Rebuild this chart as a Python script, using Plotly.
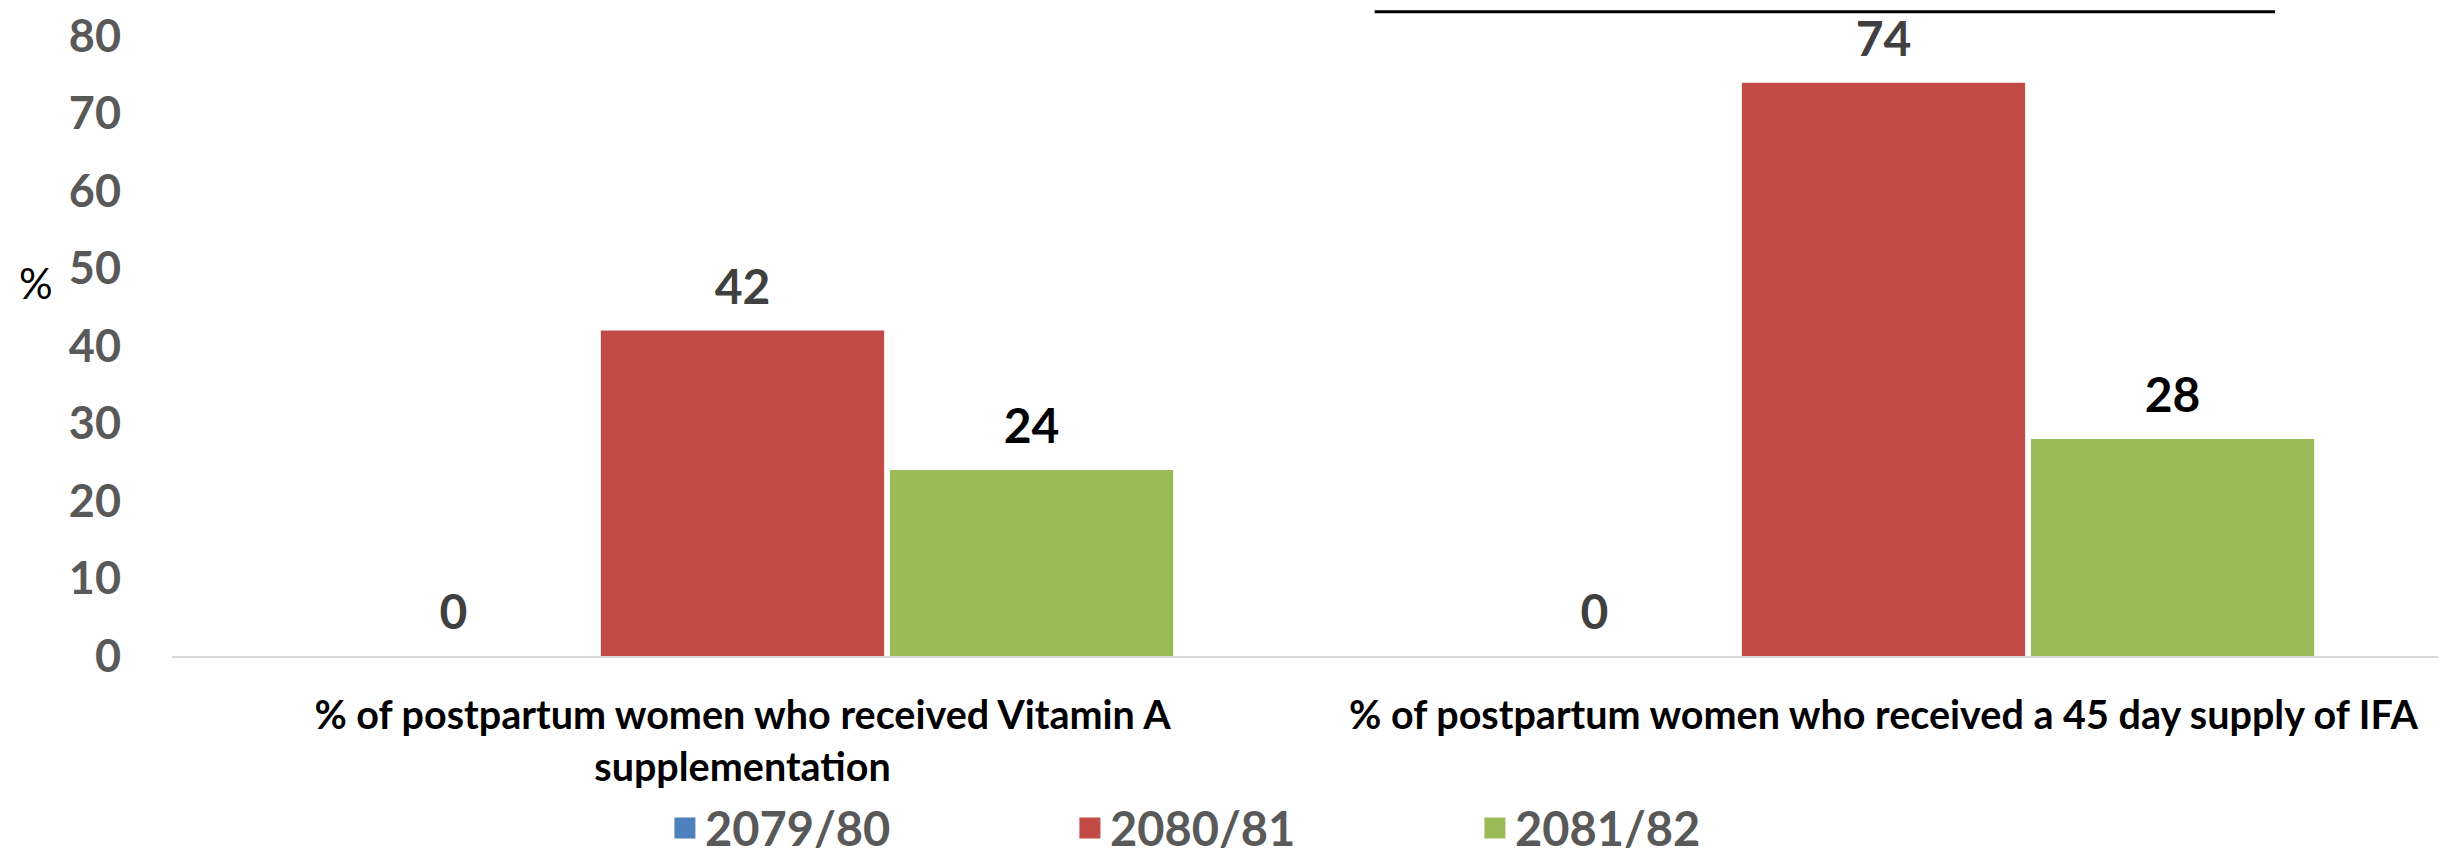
import plotly.graph_objects as go

# ---- data ----
categories = [
    "% of postpartum women who received Vitamin A<br>supplementation",
    "% of postpartum women who received a 45 day supply of IFA",
]
series_names = ["2079/80", "2080/81", "2081/82"]
values_2079_80 = [0, 0]
values_2080_81 = [42, 74]
values_2081_82 = [24, 28]
y_tick_values = [0, 10, 20, 30, 40, 50, 60, 70, 80]
y_axis_label = "%"

# ---- styles ----
series_values = [values_2079_80, values_2080_81, values_2081_82]
bar_colors = ["#4F81BD", "#C24B48", "#9BBB59"]
label_colors = ["#404040", "#404040", "#000000"]
FONT = "Lato"

fig = go.Figure()

for i, (name, vals) in enumerate(zip(series_names, series_values)):
    fig.add_trace(go.Bar(
        x=categories, y=vals, name=name,
        marker=dict(color=bar_colors[i], line=dict(width=0)),
        offsetgroup=str(i), showlegend=False, hoverinfo="skip",
    ))
    # value labels, placed over each bar through grouped scatter positioning
    fig.add_trace(go.Scatter(
        x=categories, y=vals, mode="markers+text",
        text=[str(v) for v in vals], textposition="top center",
        textfont=dict(family=FONT, size=48, color=label_colors[i], weight="bold"),
        marker=dict(size=22, color="rgba(0,0,0,0)"),
        offsetgroup=str(i), cliponaxis=False, showlegend=False, hoverinfo="skip",
    ))
    # legend entry
    fig.add_trace(go.Scatter(
        x=[None], y=[None], mode="markers", name=name,
        marker=dict(symbol="square", size=16, color=bar_colors[i],
                    line=dict(width=5, color=bar_colors[i])),
        showlegend=True, hoverinfo="skip",
    ))

fig.update_layout(
    width=2446, height=858,
    margin=dict(l=164, r=0, t=27, b=201),
    paper_bgcolor="white", plot_bgcolor="white",
    barmode="group", bargap=0.24, bargroupgap=0.02,
    scattermode="group", scattergap=0.24,
    showlegend=True,
    legend=dict(
        orientation="h", x=0.216, xanchor="left", y=-0.278, yanchor="middle",
        font=dict(family=FONT, size=47, color="#595959", weight="bold"),
        entrywidth=360, entrywidthmode="pixels", itemsizing="trace",
        bgcolor="rgba(0,0,0,0)",
    ),
    xaxis=dict(
        showline=True, linecolor="#D9D9D9", linewidth=2,
        ticks="", showgrid=False, zeroline=False,
        tickfont=dict(family=FONT, size=39.5, color="#000000", weight="bold"),
        ticklabelstandoff=24,
    ),
    yaxis=dict(
        range=[0, 80.15], tickmode="array", tickvals=y_tick_values,
        ticktext=[str(v) for v in y_tick_values],
        showline=False, showgrid=False, zeroline=False, ticks="",
        tickfont=dict(family=FONT, size=45, color="#595959", weight="bold"),
        ticklabelstandoff=50, ticklabeloverflow="allow",
    ),
    annotations=[dict(
        text=y_axis_label, xref="paper", yref="paper", x=-0.0596, y=0.60,
        xanchor="center", yanchor="middle", showarrow=False,
        font=dict(family=FONT, size=42, color="#000000"),
    )],
    shapes=[dict(
        type="line", xref="paper", yref="paper",
        x0=0.527, x1=0.9216, y0=1.0374, y1=1.0374,
        line=dict(color="#000000", width=3),
    )],
)

fig.write_html("out.html")
